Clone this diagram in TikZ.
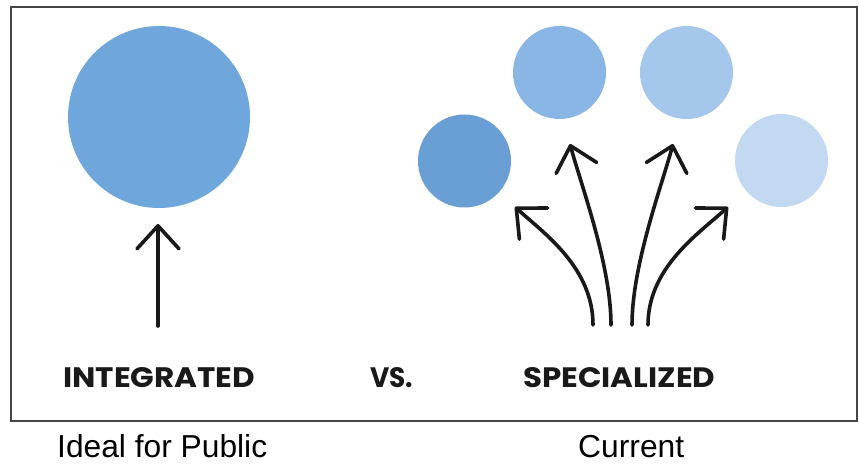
\documentclass[tikz,border=0pt]{standalone}
\usepackage{fontspec}
\setmainfont{Liberation Sans}
\newfontfamily\capsfont{Poppins}
\usetikzlibrary{arrows.meta}
\definecolor{cbig}{RGB}{111,167,220}
\definecolor{cone}{RGB}{106,159,214}
\definecolor{ctwo}{RGB}{137,182,228}
\definecolor{cthree}{RGB}{165,199,236}
\definecolor{cfour}{RGB}{195,217,242}
\definecolor{framegray}{RGB}{70,70,70}
\definecolor{inkdark}{RGB}{25,25,25}
\tikzset{
  blob/.style={circle, inner sep=0pt, draw=none},
  arr/.style={inkdark, line width=3.6pt, line cap=round,
    -{Straight Barb[length=23pt, width=42pt, line width=3.6pt, round]}},
  caps/.style={inner sep=0pt, anchor=south west, text=inkdark},
  lbl/.style={inner sep=0pt, anchor=base west, text=black}
}
\begin{document}
\begin{tikzpicture}[x=1pt, y=-1pt]
\useasboundingbox[fill=white] (0,0) rectangle (859,465);
\draw[framegray, line width=2.2pt] (11,7) rectangle (857,421);
% circles
\node[blob, fill=cbig, minimum size=182pt] (big) at (159,117) {};
\node[blob, fill=cone, minimum size=93pt] (c1) at (464.5,161) {};
\node[blob, fill=ctwo, minimum size=93pt] (c2) at (559.5,72.5) {};
\node[blob, fill=cthree, minimum size=93pt] (c3) at (686.5,72.5) {};
\node[blob, fill=cfour, minimum size=93pt] (c4) at (781.5,160.5) {};
% arrow endpoints
\coordinate (s0) at (158,326);
\coordinate (t0) at (158,224);
\coordinate (s1) at (593,325);
\coordinate (t1) at (515,207);
\coordinate (s2) at (611,325);
\coordinate (t2) at (570,144);
\coordinate (s3) at (632,325);
\coordinate (t3) at (673,144);
\coordinate (s4) at (648,325);
\coordinate (t4) at (728,207);
\draw[arr] (s0) -- (t0);
\draw[arr] (s1) .. controls (593,268) and (545,234) .. (t1);
\draw[arr] (s2) .. controls (611,265) and (581,185) .. (t2);
\draw[arr] (s3) .. controls (632,265) and (662,185) .. (t3);
\draw[arr] (s4) .. controls (648,268) and (698,234) .. (t4);
% captions
\node[caps] (integ) at (63,388) {\resizebox{192pt}{20pt}{\capsfont\bfseries INTEGRATED}};
\node[caps] (vs) at (370,388) {\resizebox{43pt}{20pt}{\capsfont\bfseries VS.}};
\node[caps] (spec) at (523,388) {\resizebox{192pt}{20pt}{\capsfont\bfseries SPECIALIZED}};
\node[lbl] (ideal) at (57,457) {\resizebox{210pt}{!}{\fontsize{28pt}{30pt}\selectfont Ideal for Public}};
\node[lbl] (curr) at (578,457) {\resizebox{106pt}{!}{\fontsize{28pt}{30pt}\selectfont Current}};
\end{tikzpicture}
\end{document}
